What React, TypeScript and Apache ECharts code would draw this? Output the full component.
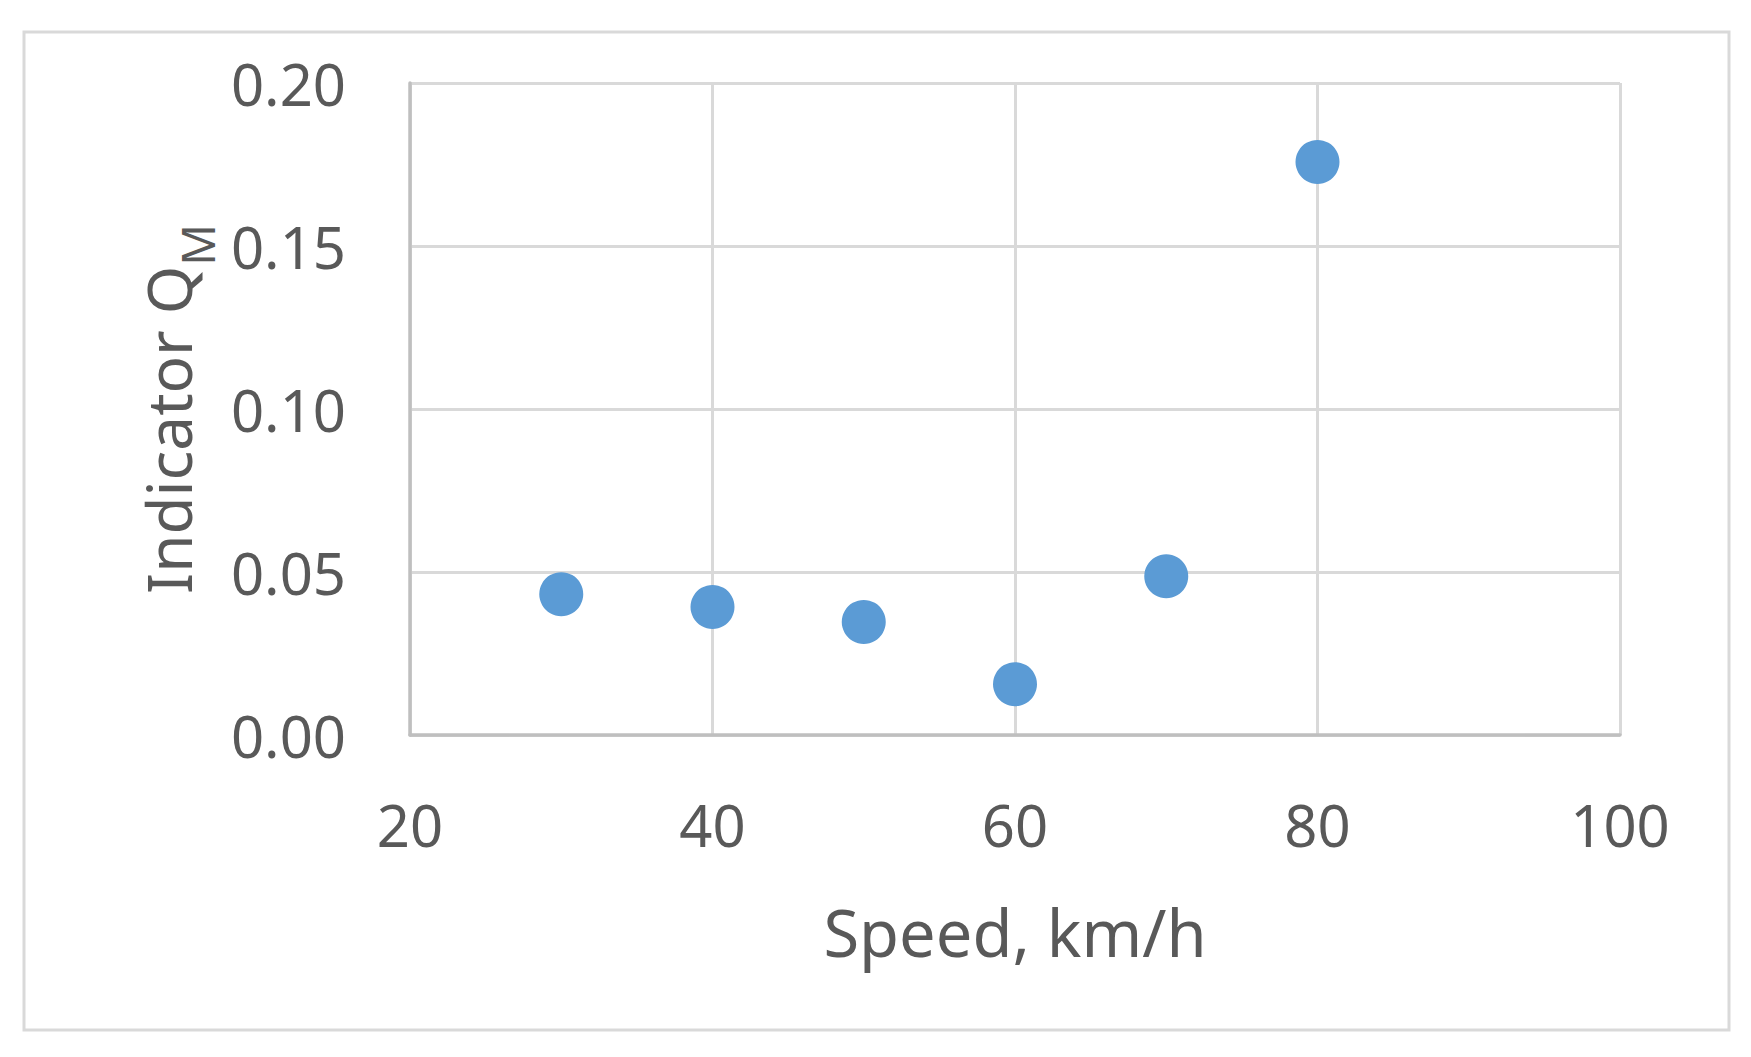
import React, { useEffect, useRef } from "react";
import * as echarts from "echarts";

const speeds = [30, 40, 50, 60, 70, 80];
const qmValues = [0.0432, 0.0393, 0.0347, 0.0156, 0.0487, 0.1758];
const xTicks = { min: 20, max: 100, interval: 20 };
const yTicks = { min: 0, max: 0.2, interval: 0.05 };

const FONT = "'Noto Sans', 'Liberation Sans', sans-serif";
const TEXT = "#595959";

export default function App() {
  const ref = useRef<HTMLDivElement>(null);
  useEffect(() => {
    if (!ref.current) return;
    const chart = echarts.init(ref.current, undefined, { renderer: "svg" });
    chart.setOption({
      animation: false,
      backgroundColor: "#ffffff",
      graphic: [
        {
          type: "rect",
          shape: { x: 24, y: 32, width: 1705, height: 998 },
          style: { fill: "none", stroke: "#D9D9D9", lineWidth: 3 },
          silent: true,
        },
      ],
      grid: { left: 410, right: 131, top: 83, bottom: 322 },
      xAxis: {
        type: "value",
        min: xTicks.min,
        max: xTicks.max,
        interval: xTicks.interval,
        name: "Speed, km/h",
        nameLocation: "middle",
        nameGap: 164,
        nameTextStyle: { fontFamily: FONT, fontSize: 65, lineHeight: 65, color: TEXT },
        axisLine: { show: true, lineStyle: { color: "#BFBFBF", width: 3.5 } },
        axisTick: { show: false },
        axisLabel: { margin: 60, fontFamily: FONT, fontSize: 58, lineHeight: 58, color: TEXT },
        splitLine: { show: true, lineStyle: { color: "#D9D9D9", width: 3 } },
      },
      yAxis: {
        type: "value",
        min: yTicks.min,
        max: yTicks.max,
        interval: yTicks.interval,
        name: "{a|Indicator Q}{b|M}",
        nameLocation: "middle",
        nameGap: 203,
        nameRotate: 90,
        nameTextStyle: {
          color: TEXT,
          rich: {
            a: { fontFamily: FONT, fontSize: 62, lineHeight: 62, color: TEXT },
            b: { fontFamily: FONT, fontSize: 46, lineHeight: 46, padding: [59, 0, 0, 0], color: TEXT },
          },
        },
        axisLine: { show: true, lineStyle: { color: "#BFBFBF", width: 3.5 } },
        axisTick: { show: false },
        axisLabel: {
          margin: 64,
          fontFamily: FONT,
          fontSize: 58,
          color: TEXT,
          formatter: (v: number) => v.toFixed(2),
        },
        splitLine: { show: true, lineStyle: { color: "#D9D9D9", width: 3 } },
      },
      series: [
        {
          type: "scatter",
          data: speeds.map((s, i) => [s, qmValues[i]]),
          symbol: "circle",
          symbolSize: 44,
          itemStyle: { color: "#5B9BD5", opacity: 1 },
        },
      ],
    });
    return () => chart.dispose();
  }, []);
  return (
    <div
      ref={ref}
      style={{ position: "absolute", left: 0, top: 0, width: 1751, height: 1057, background: "#fff" }}
    />
  );
}
